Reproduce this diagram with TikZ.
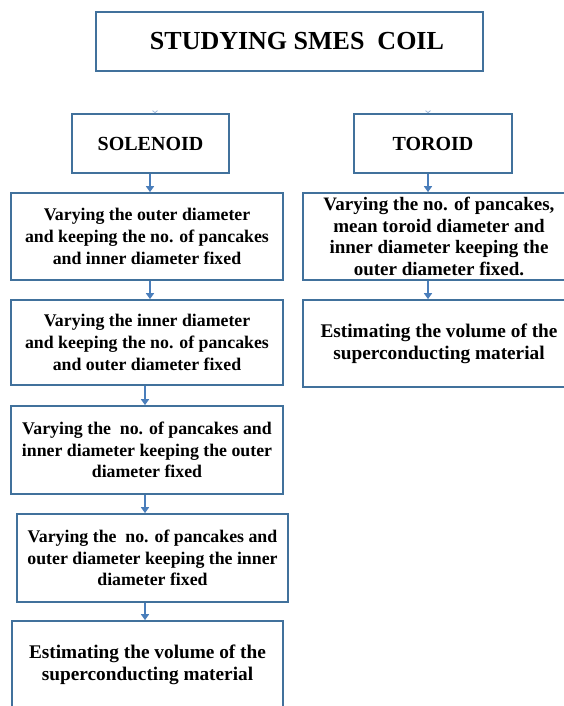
\documentclass[tikz,border=0pt]{standalone}
\usepackage{fontspec}
\setmainfont{Liberation Serif}
\usetikzlibrary{arrows.meta}

\definecolor{boxblue}{HTML}{41719C}
\definecolor{arrowblue}{HTML}{4A7EBB}
\definecolor{faintblue}{HTML}{9DB7DA}

\tikzset{
    box/.style={draw=boxblue, line width=1.7pt, fill=white, align=center,
        inner sep=0pt, font=\bfseries},
    flow/.style={draw=arrowblue, line width=1.8pt,
        -{Triangle[length=6pt,width=8pt]}},
    ghost/.style={draw=white, line width=0.4pt, shorten <=3pt,
        -{Straight Barb[length=2pt,width=5pt,color=faintblue,line width=0.8pt]}}
}

\begin{document}
\begin{tikzpicture}[x=1pt, y=-1pt]
            \useasboundingbox (0,0) rectangle (564,706);

            \begin{scope}[every node/.style={box}]

                \node[minimum width=387pt, minimum height=59pt, font=\bfseries\fontsize{26}{30}\selectfont]
                    (title) at (289.5,41.5) {\hspace*{15pt}STUDYING SMES~ COIL};

                \node[minimum width=157pt, minimum height=59pt, font=\bfseries\fontsize{20}{24}\selectfont]
                    (sol) at (150.5,143.5) {SOLENOID};
                \node[minimum width=158pt, minimum height=59pt, font=\bfseries\fontsize{20}{24}\selectfont]
                    (tor) at (433,143.5) {TOROID};

                % solenoid column
                \node[minimum width=272pt, minimum height=87pt, font=\bfseries\fontsize{17.8}{22}\selectfont]
                    (s1) at (147,236.5) {Varying the outer diameter\\and keeping the no. of pancakes\\and inner diameter fixed};
                \node[minimum width=272pt, minimum height=85pt, font=\bfseries\fontsize{17.8}{22}\selectfont]
                    (s2) at (147,342.5) {Varying the inner diameter\\and keeping the no. of pancakes\\and outer diameter fixed};
                \node[minimum width=272pt, minimum height=88pt, font=\bfseries\fontsize{17.8}{21.5}\selectfont]
                    (s3) at (147,450) {Varying the~ no. of pancakes and\\inner diameter keeping the outer\\diameter fixed};
                \node[minimum width=271pt, minimum height=88pt, font=\bfseries\fontsize{17.8}{21.5}\selectfont]
                    (s4) at (152.5,558) {Varying the~ no. of pancakes and\\outer diameter keeping the inner\\diameter fixed};
                \node[minimum width=271pt, minimum height=87pt, font=\bfseries\fontsize{19.3}{22}\selectfont]
                    (s5) at (147.5,664.5) {Estimating the volume of the\\superconducting material};

                % toroid column
                \node[minimum width=272pt, minimum height=87pt, font=\bfseries\fontsize{19}{21.7}\selectfont]
                    (t1) at (439,236.5) {Varying the no. of pancakes,\\mean toroid diameter and\\inner diameter keeping the\\outer diameter fixed.};
                \node[minimum width=272pt, minimum height=87pt, font=\bfseries\fontsize{19.3}{22}\selectfont]
                    (t2) at (439,343.5) {Estimating the volume of the\\superconducting material};
            \end{scope}

            % arrow columns
            \coordinate (solin) at ([xshift=4.5pt]sol.north);
            \coordinate (torin) at ([xshift=-5pt]tor.north);
            \coordinate (solout) at (150,0);
            \coordinate (midout) at (145,0);
            \coordinate (torout) at (428,0);

            \draw[ghost] (title.south -| solin) -- (solin);
            \draw[ghost] (title.south -| torin) -- (torin);

            \draw[flow] (sol.south -| solout) -- (s1.north -| solout);
            \draw[flow] (s1.south -| solout) -- (s2.north -| solout);
            \draw[flow] (s2.south -| midout) -- (s3.north -| midout);
            \draw[flow] (s3.south -| midout) -- (s4.north -| midout);
            \draw[flow] (s4.south -| midout) -- (s5.north -| midout);

            \draw[flow] (tor.south -| torout) -- (t1.north -| torout);
            \draw[flow] (t1.south -| torout) -- (t2.north -| torout);
        \end{tikzpicture}
\end{document}
